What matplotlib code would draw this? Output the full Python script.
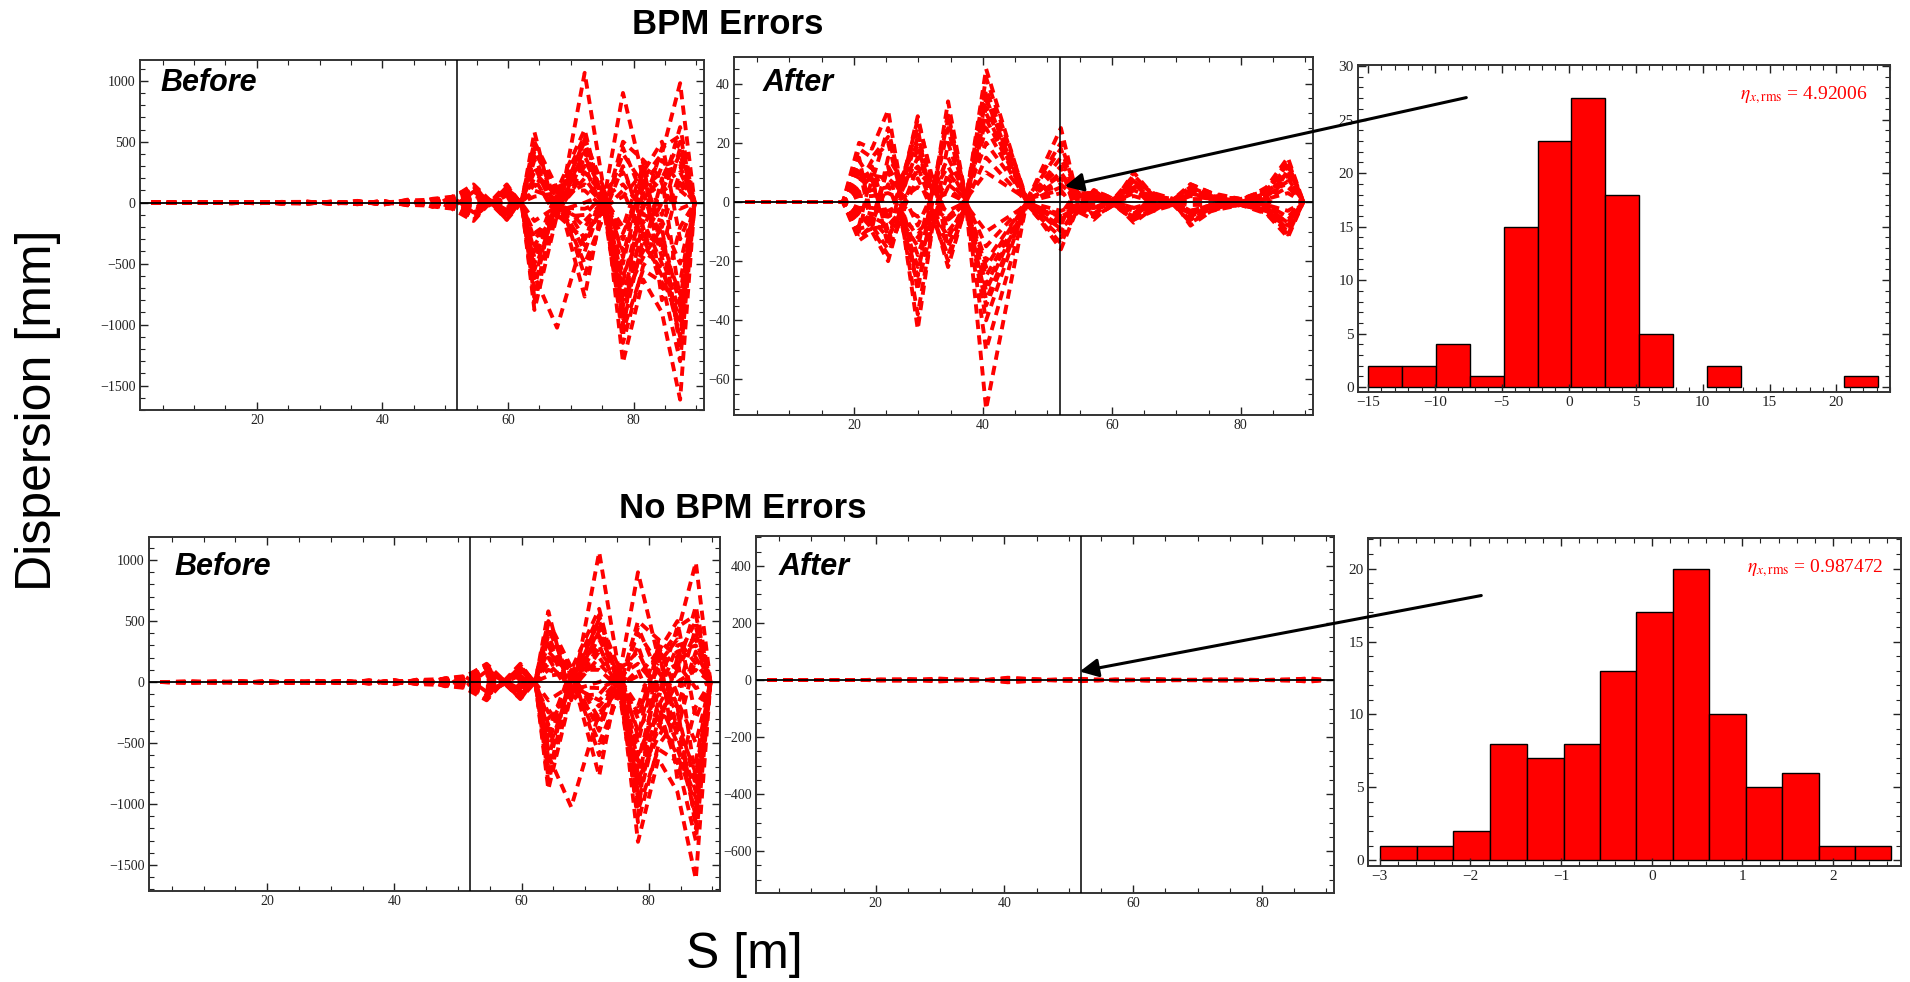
import numpy as np
import matplotlib
matplotlib.use("Agg")
import matplotlib.pyplot as plt
from matplotlib.ticker import MultipleLocator

plt.rcParams['font.family'] = ['Liberation Serif', 'DejaVu Serif']
plt.rcParams['mathtext.fontset'] = 'stix'

W, H = 1910, 982

# BPM positions along the line [m]
s_before = [3.2, 8, 12, 16, 20, 24, 28, 32, 36, 40, 44, 48, 51, 54.5, 57.3, 59.8,
            62.2, 64.2, 67.8, 72.2, 75.4, 78.3, 81.5, 84.5, 87.4, 89.7]
s_after = [3.2, 18.3, 20.8, 22.8, 25.3, 27.3, 29.9, 32.4, 34.6, 37.4, 40.5, 46.8, 52.1,
           54.5, 57.2, 60.3, 63.4, 66.5, 69.6, 72.2, 75.5, 80.0, 84, 87.3, 89.7]
s_marker = 51.9

# dispersion before correction [mm] (same seeds in both rows)
before_curves = [
    [0, 2, -3, 4, -5, 6, -8, 9, -12, 15, -20, 30, -45, 90, 5, -120, 10, 580, -150, 1065, 60, 900, 200, 400, 980, 0],
    [0, -3, 4, -5, 6, -8, 10, -12, 15, -18, 25, -35, 50, -80, -5, 140, -15, -880, -100, -300, 40, -1310, -630, -900, -1615, 0],
    [0, 1, -2, 3, -4, 5, -6, 7, -9, 11, -14, 22, 35, 150, 10, -100, 5, 420, 100, 600, -80, 300, -200, 100, 620, 0],
    [0, -1, 2, -3, 4, -5, 6, -8, 10, -12, 16, -25, -40, -60, -8, 130, -10, -700, 80, -770, 90, -1150, -520, -300, -1150, 0],
    [0, 2, 1, -2, 3, -4, 5, -6, 8, -10, 12, -18, 30, 60, 3, -80, 20, 300, -100, 450, -40, 500, 350, 200, 500, 0],
    [0, -2, -1, 2, -3, 4, -5, 6, -7, 9, -11, 15, -28, -40, -3, 90, -20, -500, 60, -400, 60, -1000, -300, -600, -1000, 0],
    [0, 1, 3, -1, 2, -3, 4, -5, 6, -8, 10, -14, 22, 120, 12, -60, 25, 250, 50, 350, 30, -200, 300, -100, 450, 0],
    [0, -1, -3, 1, -2, 3, -4, 5, -6, 7, -9, 12, -20, -100, -10, 60, -25, -350, -60, 200, -30, -850, 100, -450, -900, 0],
    [0, 3, -2, 2, -2, 2, -3, 4, -5, 6, -8, 10, 15, 40, 6, -40, 15, 150, -40, 520, 100, 250, -100, 300, 350, 0],
    [0, -3, 2, -2, 2, -2, 3, -4, 5, -6, 8, -10, -15, -30, -6, 40, -15, -600, -1025, -250, -60, -700, -400, 200, -800, 0],
    [0, 1, -1, 4, -3, 5, -4, 6, -5, 8, -6, 18, 40, 80, 0, -140, 30, 500, 120, 300, -100, -500, 200, -200, 250, 0],
    [0, -1, 1, -4, 3, -5, 4, -6, 5, -8, 6, -18, -35, -120, 8, 110, -30, -250, -120, -100, 80, -600, -200, -700, -650, 0],
    [0, 2, -2, 1, -1, 2, -2, 3, -3, 4, -5, 8, 10, 20, -2, -20, 8, 100, 30, 150, -20, 400, 150, 350, 150, 0],
    [0, -2, 2, -1, 1, -2, 2, -3, 3, -4, 5, -8, -10, -20, 2, 20, -8, -150, -30, -150, 20, -400, -100, -150, -500, 0],
    [0, 1, 2, 3, -5, 6, 7, -8, 10, -12, 18, 25, 45, 100, 15, -90, 12, 350, -80, 250, 50, -300, 250, 500, -300, 0],
    [0, -1, -2, -3, 5, -6, -7, 8, -10, 12, -18, -25, -45, -90, -15, 70, -12, -780, 40, -500, -90, -950, -150, -500, -1100, 0],
    [0, 2, 0, -3, 1, -4, 3, -5, 4, -7, 9, -12, 18, 50, 4, -50, 18, 200, 100, 100, -50, 100, -300, 0, 100, 0],
    [0, -2, 0, 3, -1, 4, -3, 5, -4, 7, -9, 12, -18, -50, -4, 50, -18, -450, -20, -350, 40, -1100, 350, -800, -200, 0],
    [0, 3, -3, 5, -6, 7, -8, 10, -13, 16, -22, 32, 48, 130, -12, -130, 22, 480, 60, 550, -70, 450, 50, 150, -50, 0],
    [0, -3, 3, -5, 6, -7, 8, -10, 13, -16, 22, -32, -48, -150, 12, 150, -22, -820, -70, 0, 70, -800, -450, -200, -1200, 0],
    [0, 1, -1, 2, -2, 3, -3, 4, -4, 5, -7, 9, 12, 70, -6, -70, 15, 380, -60, 420, -20, -250, 120, 250, 300, 0],
    [0, -1, 1, -2, 2, -3, 3, -4, 4, -5, 7, -9, -12, -70, 6, 70, -15, -620, 20, -200, 30, -750, -250, -350, -750, 0],
    [0, 2, -1, 1, -3, 2, -4, 3, -6, 8, -10, 14, 25, 110, 8, -110, 20, 200, -120, 380, 50, 150, -50, 450, 550, 0],
    [0, -2, 1, -1, 3, -2, 4, -3, 6, -8, 10, -14, -25, -110, -8, 100, -20, -400, 100, -600, -50, -900, -350, -550, -950, 0],
    [0, 1, 0, 2, -1, 3, -2, 4, -3, 5, -4, 6, 8, 30, 3, -30, 10, 450, 0, 500, -30, 50, 250, 100, 400, 0],
    [0, -1, 0, -2, 1, -3, 2, -4, 3, -5, 4, -6, -8, -30, -3, 30, -10, -550, -40, -50, 20, -650, 0, -250, -850, 0],
    [0, 2, 2, -1, -2, 1, 5, -2, -8, 3, 12, -5, 20, 140, -10, -140, 5, 50, 80, -300, 100, -450, 300, -400, 200, 0],
    [0, -2, -2, 1, 2, -1, -5, 2, 8, -3, -12, 5, -20, -140, 10, 120, -5, -300, -80, 300, -100, -1050, -550, -650, -1300, 0],
]

# dispersion after correction, with BPM errors [mm]
after_bpm_err = [
    [0, 0, 20, 18, 31, 5, 29, 4, 34, 1, 45, 0, 25, 3, 2, 0, 10, 2, 0, 6, 3, 0, 5, 15, 0],
    [0, 0, -13, -10, -20, -4, -43, -5, -22, -1, -70, 0, -16, -3, -6, 0, -7, -2, 0, -8, -3, 0, -4, -12, 0],
    [0, 0, 12, -9, 15, 8, 20, -6, 10, 2, 38, 1, 12, -4, 4, 1, 8, -3, 1, 5, 2, 0, 3, 10, 0],
    [0, 0, -8, 10, -10, -6, -15, 6, -10, -2, -35, -1, -8, 4, -5, -1, -5, 3, -1, -6, -2, 0, -3, -8, 0],
    [0, 0, 8, 6, 10, 3, 15, 3, 8, 0, 32, 0, 10, 2, 3, 0, 6, 1, 0, 4, 1, 0, 2, 8, 0],
    [0, 0, -6, -5, -8, -3, -12, -3, -6, 0, -30, 0, -7, -2, -4, 0, -4, -1, 0, -5, -1, 0, -2, -7, 0],
    [0, 0, 5, 12, -6, 6, 10, 5, -5, 1, 28, 1, 6, 1, -2, 1, 4, 2, 1, 3, 2, 1, 4, 6, 0],
    [0, 0, -5, -7, 6, -6, -10, -5, 5, -1, -25, -1, -5, -1, 2, -1, -3, -2, -1, -4, -2, -1, -3, -6, 0],
    [0, 0, 3, 4, 5, 2, 18, 2, 6, 1, 25, 0, 8, 2, 1, 0, 3, 1, 0, 2, 1, 0, 1, 5, 0],
    [0, 0, -3, -4, -5, -2, -18, -2, -6, -1, -20, 0, -6, -2, -3, 0, -2, -1, 0, -3, -1, 0, -1, -5, 0],
    [0, 0, 15, -6, 12, 4, -8, 4, 15, 2, 20, 1, 4, -3, 4, 1, 5, -2, 1, 6, 3, 1, 4, 12, 0],
    [0, 0, -10, 8, -12, -4, 8, -4, -15, -2, -33, -1, -4, 3, -5, -1, -4, 2, -1, -7, -3, -1, -4, -10, 0],
    [0, 0, 2, 2, 3, 1, 5, 1, 3, 0, 15, 0, 3, 1, 1, 0, 2, 0, 0, 1, 1, 0, 1, 3, 0],
    [0, 0, -2, -2, -3, -1, -5, -1, -3, 0, -15, 0, -3, -1, -1, 0, -2, 0, 0, -1, -1, 0, -1, -3, 0],
    [0, 0, 10, 8, -15, 7, 25, -7, 20, 1, 10, 1, 9, 4, -4, 1, 7, 3, 1, 4, 2, 1, 3, 9, 0],
    [0, 0, -9, -8, 12, -7, -25, 7, -15, -1, -10, -1, -9, -4, 4, -1, -6, -3, -1, -4, -2, -1, -3, -9, 0],
    [0, 0, 6, 14, 20, 3, -30, 3, 25, 0, -40, 0, 15, 2, 2, 0, 4, 1, 0, 3, 1, 0, 2, -11, 0],
    [0, 0, -4, -6, -12, -3, 12, -3, -12, 0, 35, 0, -10, -2, -2, 0, -4, -1, 0, -3, -1, 0, -2, 11, 0],
    [0, 0, 14, 7, 25, 5, 28, 6, 30, 1, 42, 1, 18, 3, 3, 1, 9, 2, 1, 5, 2, 1, 3, 13, 0],
    [0, 0, -11, -9, -18, -5, -38, -6, -20, -1, -50, -1, -14, -3, -5, -1, -6, -2, -1, -6, -2, -1, -3, -11, 0],
    [0, 0, 18, 15, 22, 6, 12, 5, 28, 2, 30, 1, 20, 3, 3, 1, 7, 2, 0, 5, 2, 0, 4, 14, 0],
    [0, 0, -12, -8, -16, -6, -28, -6, -18, -2, -28, -1, -12, -3, -4, -1, -5, -2, 0, -7, -2, 0, -3, -10, 0],
    [0, 0, 4, 9, 8, 4, 22, 4, 12, 1, 35, 0, 5, 2, 2, 0, 6, 1, 0, 3, 1, 0, 2, 7, 0],
    [0, 0, -4, -9, -8, -4, -22, -4, -12, -1, -22, 0, -5, -2, -2, 0, -4, -1, 0, -4, -1, 0, -2, -7, 0],
]

# dispersion after correction, no BPM errors [mm]
after_no_err = [
    [0, 0, 1, -1, 2, 1, 3, -1, 2, 0, 4, 0, 2, 1, -1, 0, 1, 0, 0, 1, 0, 0, 1, 3, 0],
    [0, 0, -1, 1, -2, -1, -3, 1, -2, 0, -4, 0, -2, -1, 1, 0, -1, 0, 0, -1, 0, 0, -1, -3, 0],
    [0, 0, 2, 1, 1, 2, 5, 2, -1, 1, 6, 1, 3, -2, 2, 1, 2, 1, 1, 2, 1, 0, 2, 4, 0],
    [0, 0, -2, -1, -1, -2, -5, -2, 1, -1, -6, -1, -3, 2, -2, -1, -2, -1, -1, -2, -1, 0, -2, -4, 0],
    [0, 0, 0, 2, 3, 0, 2, 0, 3, 0, 8, 0, 4, 0, 0, 0, 3, 0, 0, 0, 2, 0, 0, 6, 0],
    [0, 0, 0, -2, -3, 0, -2, 0, -3, 0, -8, 0, -4, 0, 0, 0, -3, 0, 0, 0, -2, 0, 0, -6, 0],
]

# histograms of the dispersion at the marker
hist_top_edges = [-15.0, -12.47, -9.94, -7.4, -4.87, -2.33, 0.2, 2.74, 5.27, 7.8,
                  10.34, 12.87, 15.4, 17.94, 20.6, 23.14]
hist_top_counts = [2, 2, 4, 1, 15, 23, 27, 18, 5, 0, 2, 0, 0, 0, 1]
hist_bot_edges = [-3.0, -2.59, -2.19, -1.78, -1.38, -0.97, -0.57, -0.17, 0.23, 0.63,
                  1.04, 1.44, 1.84, 2.24, 2.64]
hist_bot_counts = [1, 1, 2, 8, 7, 8, 13, 17, 20, 10, 5, 6, 1, 1]
rms_top = "4.92006"
rms_bot = "0.987472"


def box(l, t, r, b):
    return [l / W, 1 - b / H, (r - l) / W, (b - t) / H]


def fx(px):
    return px / W


def fy(py):
    return 1 - py / H


def frame(ax, xmaj, xmin, ymaj, ymin, fs):
    ax.xaxis.set_major_locator(MultipleLocator(xmaj))
    ax.xaxis.set_minor_locator(MultipleLocator(xmin))
    ax.yaxis.set_major_locator(MultipleLocator(ymaj))
    ax.yaxis.set_minor_locator(MultipleLocator(ymin))
    ax.tick_params(which='both', direction='in', top=True, right=True,
                   labelsize=fs, pad=3, colors='#222222')
    ax.tick_params(which='major', length=6, width=1.0)
    ax.tick_params(which='minor', length=3.5, width=0.8)
    for sp in ax.spines.values():
        sp.set_linewidth(1.4)
        sp.set_color('#333333')


def lines(ax, s, curves, ylim):
    for c in curves:
        ax.plot(s, c, color='red', lw=2.8, dashes=(2.4, 1.6))
    ax.axhline(0, color='black', lw=1.3, zorder=3)
    ax.axvline(s_marker, color='black', lw=1.1, zorder=3)
    ax.set_xlim(1.4, 91.2)
    ax.set_ylim(*ylim)


def hist(ax, edges, counts, xlim, ylim):
    edges = np.array(edges)
    counts = np.array(counts)
    keep = counts > 0
    ax.bar(edges[:-1][keep], counts[keep], width=np.diff(edges)[keep], align='edge',
           color='red', edgecolor='black', linewidth=1.0)
    ax.set_xlim(*xlim)
    ax.set_ylim(*ylim)


fig = plt.figure(figsize=(W / 100, H / 100), dpi=100)

ax1 = fig.add_axes(box(140, 60, 704, 410))
lines(ax1, s_before, before_curves, (-1700, 1170))
frame(ax1, 20, 5, 500, 100, 10)

ax2 = fig.add_axes(box(734, 57, 1313, 415))
lines(ax2, s_after, after_bpm_err, (-72, 49))
frame(ax2, 20, 5, 20, 5, 10)

ax3 = fig.add_axes(box(1358, 65, 1890, 392))
hist(ax3, hist_top_edges, hist_top_counts, (-15.75, 24.0), (-0.45, 30.1))
frame(ax3, 5, 1, 5, 1, 11)

ax4 = fig.add_axes(box(149, 537, 720, 891))
lines(ax4, s_before, before_curves, (-1713, 1189))
frame(ax4, 20, 5, 500, 100, 10)

ax5 = fig.add_axes(box(756, 536, 1334, 893))
lines(ax5, s_after, after_no_err, (-747, 505))
frame(ax5, 20, 5, 200, 50, 10)

ax6 = fig.add_axes(box(1368, 538, 1901, 866))
hist(ax6, hist_bot_edges, hist_bot_counts, (-3.13, 2.75), (-0.4, 22.1))
frame(ax6, 1, 0.2, 5, 1, 11)

sans = 'Liberation Sans'
fig.text(fx(728), fy(25), 'BPM Errors', family=sans, weight='bold', fontsize=25,
         ha='center', va='center')
fig.text(fx(743), fy(508), 'No BPM Errors', family=sans, weight='bold', fontsize=25,
         ha='center', va='center')

for (px, py, label) in [(160, 83, 'Before'), (763, 83, 'After'),
                        (174, 567, 'Before'), (779, 567, 'After')]:
    fig.text(fx(px), fy(py), label, family=sans, weight='bold', style='italic',
             fontsize=22, ha='left', va='center')

fig.text(fx(1868), fy(95), r'$\eta_{x,\mathrm{rms}}$ = ' + rms_top, color='red',
         fontsize=14, ha='right', va='center')
fig.text(fx(1884), fy(568), r'$\eta_{x,\mathrm{rms}}$ = ' + rms_bot, color='red',
         fontsize=14, ha='right', va='center')

fig.text(fx(38), fy(410), 'Dispersion [mm]', family=sans, fontsize=36, rotation=90,
         ha='center', va='center')
fig.text(fx(744), fy(955), 'S [m]', family=sans, fontsize=36, ha='center', va='center')

for (x0, y0, x1, y1) in [(1469, 97, 1062, 187), (1484, 595, 1077, 672)]:
    fig.add_artist(matplotlib.patches.FancyArrowPatch(
        (fx(x0), fy(y0)), (fx(x1), fy(y1)), transform=fig.transFigure,
        arrowstyle='-|>', mutation_scale=28, color='black', lw=2.2, zorder=10))

fig.savefig('out.png', dpi=100)
